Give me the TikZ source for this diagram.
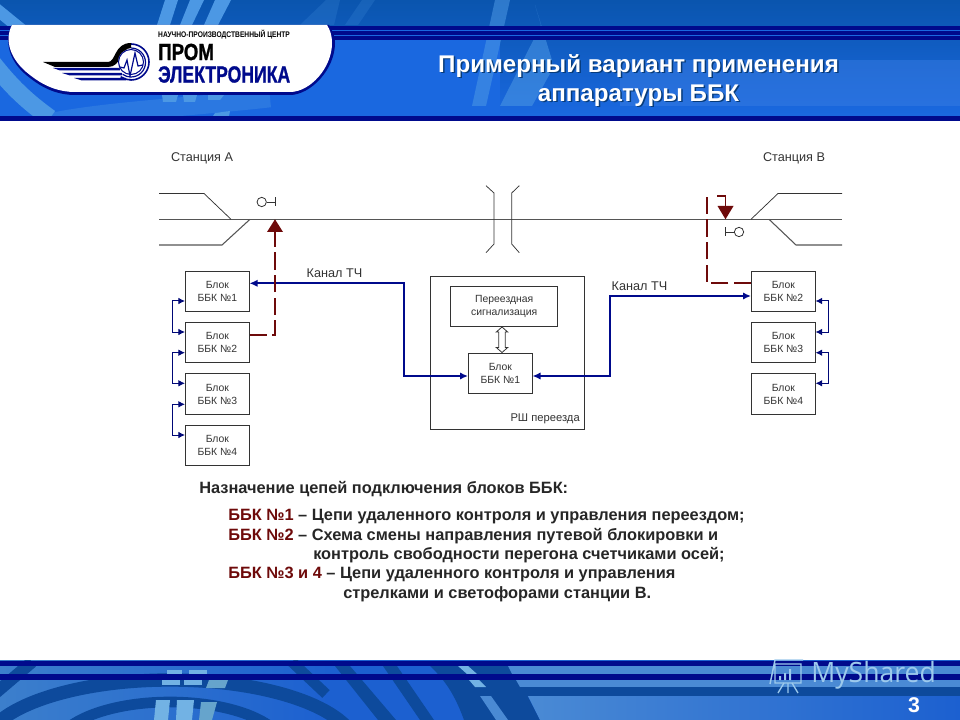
\documentclass[tikz,border=0pt]{standalone}
\usepackage{fontspec}
\setmainfont{Liberation Sans}
\newfontfamily\wmfont{Open Sans}
\newfontfamily\heavy[BoldFeatures={FakeBold=1.2}]{Liberation Sans}
\usetikzlibrary{arrows.meta,calc}
\definecolor{navy}{HTML}{000A8C}
\definecolor{dkred}{HTML}{6E0A0A}
\definecolor{linegrey}{HTML}{555555}
\definecolor{blockline}{HTML}{333333}
\definecolor{txtgrey}{HTML}{333333}
\definecolor{hdtop}{HTML}{0A55AE}
\definecolor{hdbot}{HTML}{1A68E0}
\definecolor{arclight}{HTML}{4C98E4}
\definecolor{ftbase}{HTML}{3C7FCC}
\definecolor{ftsat}{HTML}{1C60D0}
\definecolor{ftdark}{HTML}{0D4A9C}
\definecolor{ftpale}{HTML}{72B2E4}
\definecolor{ftmuted}{HTML}{66A4CC}
\definecolor{ftsteel}{HTML}{4A8AD4}
\tikzset{
 x=0.75pt,y=-0.75pt,
 block/.style={draw=blockline,line width=0.75pt,fill=white,minimum width=47.8pt,minimum height=30.3pt,inner sep=0pt,align=center,font=\fontsize{7.8}{9.75}\selectfont,text=txtgrey,anchor=north west},
 track/.style={draw=linegrey,line width=0.8pt},
 fine/.style={draw=black!80,line width=0.55pt},
 chan/.style={draw=navy,line width=1.5pt,{Latex[length=6pt,width=5.5pt]}-{Latex[length=6pt,width=5.5pt]}},
 link/.style={draw=navy!85!black,line width=0.75pt,{Latex[length=5pt,width=5pt]}-{Latex[length=5pt,width=5pt]}},
 ctrl/.style={draw=dkred,line width=1.4pt,dash pattern=on 13pt off 4pt},
 head/.style={fill=dkred,draw=none},
 lbl/.style={font=\fontsize{9.5}{11}\selectfont,text=txtgrey,inner sep=0pt},
 body/.style={font=\fontsize{12.27}{14}\bfseries\selectfont,text=black!85,anchor=base west,inner sep=0pt},
 lamp/.style={circle,draw=black!80,line width=0.6pt,fill=white,minimum size=7pt,inner sep=0pt},
 ring/.style={draw=ftdark},
}
\newcommand{\redt}[1]{\textcolor{dkred}{#1}}
\begin{document}
\begin{tikzpicture}
\useasboundingbox (0,0) rectangle (960,720);
\fill[white] (0,0) rectangle (960,720);
% header background
\begin{scope}
\clip (0,0) rectangle (960,116);
\shade[top color=hdtop,bottom color=hdbot] (0,0) rectangle (960,116);
\fill[hdbot!85!white,opacity=.45] (620,60) rectangle (960,106);
\fill[hdbot] (0,40) rectangle (500,116);
\draw[arclight,line width=13pt] (-8,62) .. controls (10,85) and (25,100) .. (50,118);
\draw[arclight,line width=9pt] (-5,8) -- (22,30);
\draw[arclight,opacity=.35,line width=14pt] (40,125) .. controls (90,112) and (180,108) .. (270,98);
\fill[arclight] (165,0)--(178,0)--(170,25)--(157,25)--cycle;
\fill[arclight] (190,0)--(204,0)--(192,25)--(180,25)--cycle;
\fill[arclight] (215,0)--(231,0)--(218,25)--(204,25)--cycle;
\fill[arclight] (162,95)--(178,95)--(176,102)--(163,102)--cycle;
\fill[arclight] (183,95)--(197,95)--(195,102)--(184,102)--cycle;
\fill[arclight] (208,95)--(224,95)--(220,100)--(208,100)--cycle;
\fill[arclight] (215,113)--(230,111)--(229,116)--(213,116)--cycle;
\fill[arclight,opacity=.55] (495,0)--(510,0)--(486,106)--(472,106)--cycle;
\fill[arclight,opacity=.55] (535,5)--(541,25)--(500,106)--(532,106)--(552,70)--(552,60)--cycle;
\fill[arclight,opacity=.2] (300,25)--(326,0)--(340,0)--(334,25)--cycle;
\fill[arclight,opacity=.2] (345,25)--(362,0)--(375,0)--(358,25)--cycle;
\end{scope}
\fill[navy] (0,26) rectangle (960,40);
\fill[hdbot] (0,30) rectangle (960,31.5);
\fill[hdbot] (0,35) rectangle (960,36.5);
\fill[navy] (0,116) rectangle (960,121);
% logo plate
\fill[navy] (12,25) .. controls (4,40) and (8,62) .. (30,78) .. controls (45,90) and (60,95) .. (75,95) -- (290,95) .. controls (310,95) and (335,70) .. (335,43) .. controls (335,35) and (332,30) .. (329,25) -- cycle;
\fill[white] (12,25) .. controls (4,40) and (10,60) .. (30,75) .. controls (45,87) and (60,92) .. (75,92) -- (290,92) .. controls (310,92) and (332,68) .. (332,43) .. controls (332,35) and (330,30) .. (327,25) -- cycle;
% logo mark
\draw[navy,line width=1.2pt] (131,44) arc[start angle=-90,end angle=125,radius=18];
\draw[navy,line width=0.9pt] (131,48) arc[start angle=-90,end angle=125,radius=14.5];
\fill[black] (43,62) -- (108,62) .. controls (116,62) and (114,43) .. (131,43) -- (131,48) .. controls (120,48) and (122,67) .. (108,67) -- (55,67) -- cycle;
\fill[navy] (53,68) -- (120,68) -- (120,70.5) -- (60,70.5) -- cycle;
\fill[navy] (62,73) -- (122,73) -- (122,75.5) -- (70,75.5) -- cycle;
\fill[navy] (74,78) -- (126,78) -- (126,80.5) -- (82,80.5) -- cycle;
\fill[white] (131,62) circle[radius=13];
\draw[navy,line width=0.8pt] (131,62) circle[radius=12.5];
\draw[navy,line width=0.9pt] (120,67) -- (124,68) -- (127,60) -- (130,76) -- (135,53) -- (138,66) -- (143,65);
\node[inner sep=0pt,anchor=west,xscale=.82] (logoa) at (158,34.5) {\fontsize{6.1}{7}\bfseries\selectfont НАУЧНО-ПРОИЗВОДСТВЕННЫЙ ЦЕНТР};
\node[inner sep=0pt,anchor=west,xscale=.80] (logob) at (158,52) {\heavy\fontsize{17.5}{18}\bfseries\selectfont ПРОМ};
\node[inner sep=0pt,anchor=west,xscale=.755,text=navy] (logoc) at (158,74.5) {\heavy\fontsize{17.5}{18}\bfseries\selectfont ЭЛЕКТРОНИКА};
% title
\node[font=\fontsize{18.1}{21.75}\bfseries\selectfont,text=hdtop!70!black,align=center,inner sep=0pt] (titleshadow) at (640,81.8) {Примерный вариант применения\\аппаратуры ББК};
\node[font=\fontsize{18.1}{21.75}\bfseries\selectfont,text=white,align=center,inner sep=0pt] (title) at (638.5,80.3) {Примерный вариант применения\\аппаратуры ББК};
% footer
\begin{scope}
\clip (0,660) rectangle (960,720);
\shade[left color=ftbase,right color=ftsat] (0,660) rectangle (330,720);
\fill[ftsat] (330,660) rectangle (960,720);
\draw[ring,line width=10pt] (170,750) ellipse[x radius=187,y radius=70];
\draw[ring,line width=8pt] (170,750) ellipse[x radius=115,y radius=48];
\draw[ring,line width=9pt] (32,662) -- (-8,696);
\draw[ring,line width=8pt] (292,662) -- (326,694);
\fill[ftdark] (335,666) -- (350,666) -- (396,720) -- (378,720) -- cycle;
\fill[ftdark] (383,666) -- (397,666) -- (434,720) -- (420,720) -- cycle;
\fill[ftdark] (430,666) -- (512,666) -- (540,720) -- (464,720) .. controls (455,695) and (445,680) .. (430,666) -- cycle;
\fill[ftpale] (458,666) -- (468,666) -- (477,674) -- (467,674) -- cycle;
\fill[ftpale] (469,680) -- (479,680) -- (486,687) -- (475,687) -- cycle;
\fill[ftsteel] (480,696) -- (491,696) -- (508,720) -- (496,720) -- cycle;
\fill[ftsteel] (508,666) -- (960,666) -- (960,674) -- (512,674) -- cycle;
\fill[ftsteel] (516,680) -- (960,680) -- (960,687) -- (520,687) -- cycle;
\fill[ftdark] (512,687) rectangle (960,696);
\shade[left color=ftsteel,right color=ftsat] (528,696) -- (960,696) -- (960,720) -- (540,720) -- cycle;
\fill[ftpale] (167,670) rectangle (182,674);
\fill[ftpale] (189,670) rectangle (207,674);
\fill[ftpale] (162,680) rectangle (180,685);
\fill[ftpale] (184,680) rectangle (202,685);
\fill[ftmuted] (209,680) -- (228,680) -- (225,688) -- (206,688) -- cycle;
\fill[ftpale] (156,700) -- (170,700) -- (168,720) -- (154,720) -- cycle;
\fill[ftpale] (177,700) -- (194,700) -- (192,720) -- (176,720) -- cycle;
\fill[ftmuted] (201,702) -- (217,702) -- (212,720) -- (199,720) -- cycle;
\end{scope}
\fill[navy] (0,660.5) rectangle (960,666);
\fill[navy] (0,674) rectangle (960,680);
% watermark and slide number
\draw[draw=ftpale!70!white,line width=1.1pt] (770,684) -- (775,660) -- (803,660) (775,664) rectangle (801,683);
\fill[ftpale!70!white] (779,676) rectangle (781,680) (784,673) rectangle (786,680) (789,669) rectangle (791,680);
\draw[draw=ftpale!70!white,line width=1pt] (784,683) -- (778,693) (788,683) -- (788,693) (792,683) -- (798,693);
\node[inner sep=0pt,anchor=west,text=ftpale!70!white,xscale=.95] (wm) at (811,675.5) {\wmfont\fontsize{21}{22}\selectfont MyShared};
\node[inner sep=0pt,text=white] (pageno) at (914,705) {\fontsize{16}{17}\bfseries\selectfont 3};
% track plan
\coordinate (mainL) at (159,219.3);
\coordinate (mainR) at (842,219.3);
\draw[track] (mainL) -- (mainR);
\draw[fine] (159,193.5) -- (204,193.5) -- (231,219.3);
\draw[track] (159,245) -- (222,245) -- (250,219.3);
\draw[fine] (842,193.5) -- (778,193.5) -- (751,219.3);
\draw[track] (842,245) -- (796,245) -- (769,219.3);
\draw[fine] (486,185.7) -- (494,193) -- (494,244) -- (486,252.7);
\draw[fine] (519.3,185.7) -- (511.7,193) -- (511.7,244) -- (519.3,252.7);
% signals
\node[lamp] (lampA) at (261.7,202) {};
\coordinate (tickA) at (275,202);
\draw[fine] (lampA) -- (tickA) (275,197.5) -- (275,206.5);
\node[lamp] (lampB) at (739,232) {};
\coordinate (tickB) at (725.5,232);
\draw[fine] (lampB) -- (tickB) (725.5,227.5) -- (725.5,236.5);
% labels
\node[lbl] (stA) at (202,158) {Станция А};
\node[lbl] (stB) at (794,158) {Станция В};
\node[lbl] (chL) at (334.5,273.5) {Канал ТЧ};
\node[lbl] (chR) at (639.5,286) {Канал ТЧ};
% blocks
\node[block] (a1) at (185,270.7) {Блок\\ББК №1};
\node[block] (a2) at (185,322) {Блок\\ББК №2};
\node[block] (a3) at (185,373.3) {Блок\\ББК №3};
\node[block] (a4) at (185,424.6) {Блок\\ББК №4};
\node[block] (b2) at (751,270.7) {Блок\\ББК №2};
\node[block] (b3) at (751,322) {Блок\\ББК №3};
\node[block] (b4) at (751,373.3) {Блок\\ББК №4};
\node[draw=blockline,line width=0.75pt,minimum width=115.5pt,minimum height=114.7pt,anchor=north west,inner sep=0pt] (rsh) at (429.5,276) {};
\node[lbl,font=\fontsize{8.4}{9}\selectfont,anchor=east] (rshl) at (580,419) {РШ переезда};
\node[block,minimum width=80.6pt] (sig) at (450,285.7) {Переездная\\сигнализация};
\node[block] (c1) at (468,352.7) {Блок\\ББК №1};
% hollow double arrow
\coordinate (dt) at (502,327);
\coordinate (db) at (502,352.5);
\draw[fill=white,draw=blockline,line width=0.6pt] (dt) -- ++(5.7,5) -- ++(-2.4,0) -- ++(0,15.5) -- ++(2.4,0) -- (db) -- ++(-5.7,-5) -- ++(2.4,0) -- ++(0,-15.5) -- ++(-2.4,0) -- cycle;
% high frequency channels
\coordinate (a1in) at (249.5,283.3);
\coordinate (c1w) at (468,376);
\coordinate (c1e) at (532.5,376);
\coordinate (b2in) at (751,296);
\draw[chan] (a1in) -- (404,283.3) -- (404,376) -- (c1w);
\draw[chan] (c1e) -- (609.5,376) -- (609.5,296) -- (b2in);
% links between blocks
\coordinate (l1a) at (185,301);\coordinate (l1b) at (185,332);
\coordinate (l2a) at (185,352.7);\coordinate (l2b) at (185,383.3);
\coordinate (l3a) at (185,404.3);\coordinate (l3b) at (185,435);
\coordinate (r1a) at (815.5,301);\coordinate (r1b) at (815.5,332);
\coordinate (r2a) at (815.5,352.7);\coordinate (r2b) at (815.5,383.3);
\draw[link] (l1a) -- ++(-12.5,0) |- (l1b);
\draw[link] (l2a) -- ++(-12.5,0) |- (l2b);
\draw[link] (l3a) -- ++(-12.5,0) |- (l3b);
\draw[link] (r1a) -- ++(12.8,0) |- (r1b);
\draw[link] (r2a) -- ++(12.8,0) |- (r2b);
% control lines
\coordinate (ctA) at (275,232);
\coordinate (ctB) at (725.5,206);
\draw[ctrl] (249.5,334.7) -- (275,334.7) -- (ctA);
\fill[head] (275,219.3) -- (283,232) -- (267,232) -- cycle;
\draw[ctrl] (751,283.3) -- (707,283.3) -- (707,195.5);
\draw[draw=dkred,line width=1.4pt] (717,196) -- (725.5,196) -- (ctB);
\fill[head] (725.5,219.3) -- (733.5,206) -- (717.5,206) -- cycle;
% text
\node[body] (t0) at (199,493) {Назначение цепей подключения блоков ББК:};
\node[body] (t1) at (228,520.5) {\redt{ББК №1} – Цепи удаленного контроля и управления переездом;};
\node[body] (t2) at (228,540) {\redt{ББК №2} – Схема смены направления путевой блокировки и};
\node[body] (t3) at (313,559.3) {контроль свободности перегона счетчиками осей;};
\node[body] (t4) at (228,578.5) {\redt{ББК №3 и 4} – Цепи удаленного контроля и управления};
\node[body] (t5) at (343,598.3) {стрелками и светофорами станции В.};
\end{tikzpicture}
\end{document}
